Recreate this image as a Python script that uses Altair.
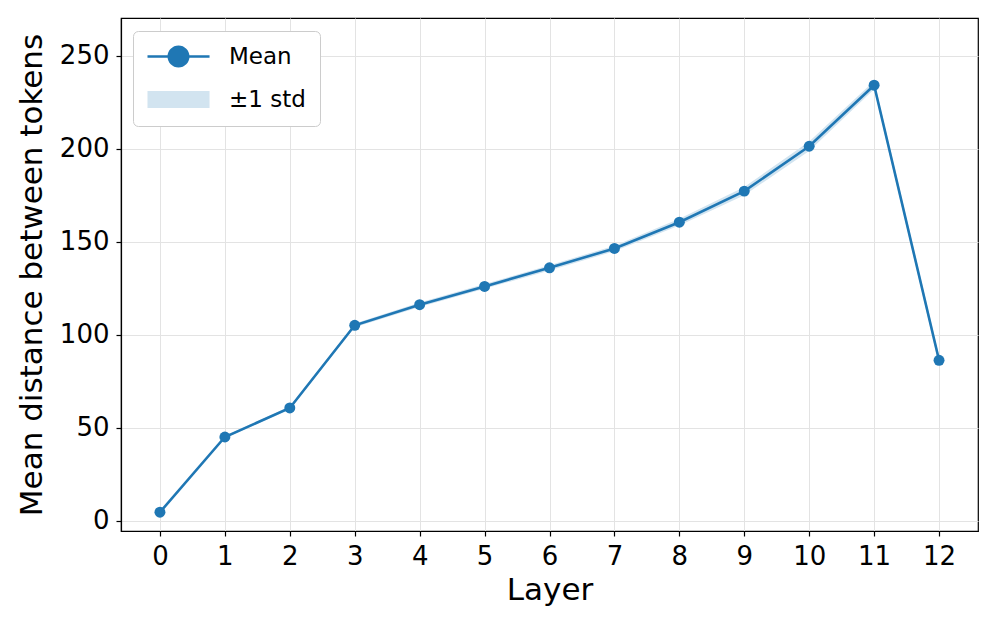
import altair as alt
import pandas as pd

layers = [0, 1, 2, 3, 4, 5, 6, 7, 8, 9, 10, 11, 12]
mean_dist = [4.7, 45.1, 60.7, 105.1, 116.2, 126.0, 136.0, 146.4, 160.5, 177.2, 201.3, 234.1, 86.3]
std_dist = [0.3, 0.6, 0.8, 1.0, 1.2, 1.3, 1.4, 1.5, 1.8, 2.2, 2.6, 2.2, 2.4]
series_names = ["Mean", "±1 std"]
x_ticks = list(range(0, 13))
y_ticks = [0, 50, 100, 150, 200, 250]

BLUE = "#1f77b4"
BAND = "#d2e4f0"

df = pd.DataFrame({
    "layer": layers,
    "mean": mean_dist,
    "lo": [m - s for m, s in zip(mean_dist, std_dist)],
    "hi": [m + s for m, s in zip(mean_dist, std_dist)],
})
leg_df = pd.DataFrame({"series": series_names})

FONT = "DejaVu Sans"
YDOM = [-5.4, 270.2]

x_enc = alt.X(
    "layer:Q",
    scale=alt.Scale(domain=[-0.6, 12.6], nice=False, zero=False),
    axis=alt.Axis(
        title="Layer", values=x_ticks, format="d",
        labelFontSize=26, titleFontSize=31, labelFont=FONT, titleFont=FONT,
        labelColor="black", titleColor="black", titleFontWeight="normal",
        tickSize=5, tickColor="black", tickWidth=1.2, labelPadding=7,
        domainColor="black", domainWidth=1.2,
        grid=True, gridColor="#e3e3e3", gridWidth=1,
        titleY=68, titleBaseline="alphabetic", labelFlush=False,
    ),
)
y_enc_mean = alt.Y(
    "mean:Q",
    scale=alt.Scale(domain=YDOM, nice=False, zero=False),
    axis=alt.Axis(
        title="Mean distance between tokens", values=y_ticks,
        labelFontSize=26, titleFontSize=31, labelFont=FONT, titleFont=FONT,
        labelColor="black", titleColor="black", titleFontWeight="normal",
        tickSize=5, tickColor="black", tickWidth=1.2, labelPadding=7,
        domainColor="black", domainWidth=1.2,
        grid=True, gridColor="#e3e3e3", gridWidth=1,
        titleX=-89, titleBaseline="middle", titleAngle=-90, labelFlush=False,
    ),
)

base = alt.Chart(df)

band = base.mark_area(color=BAND, opacity=1).encode(
    x=x_enc,
    y=alt.Y("lo:Q", scale=alt.Scale(domain=YDOM, nice=False, zero=False)),
    y2="hi:Q",
)
line = base.mark_line(color=BLUE, strokeWidth=2.6).encode(x=x_enc, y=y_enc_mean)
pts = base.mark_circle(color=BLUE, size=120, opacity=1).encode(x=x_enc, y=y_enc_mean)

mean_path = ("M-1,-0.11L4.64,-0.11L4.64,0.11L-1,0.11Z "
             "M2.82,0A1,1 0 1,1 0.82,0A1,1 0 1,1 2.82,0Z")
std_path = "M-1,-0.77L4.64,-0.77L4.64,0.77L-1,0.77Z"

leg = dict(
    title=None, orient="none", legendX=12, legendY=13,
    labelFontSize=23, labelFont=FONT, labelColor="black",
    symbolSize=484, symbolStrokeWidth=0, labelOffset=59,
    rowPadding=19, padding=14,
    fillColor="white", strokeColor="#cccccc", cornerRadius=5,
    symbolOpacity=1,
)

legend_layer = alt.Chart(leg_df).mark_point(filled=True, opacity=0).encode(
    color=alt.Color(
        "series:N",
        scale=alt.Scale(domain=series_names, range=[BLUE, BAND]),
        legend=alt.Legend(**leg),
    ),
    shape=alt.Shape(
        "series:N",
        scale=alt.Scale(domain=series_names, range=[mean_path, std_path]),
        legend=alt.Legend(**leg),
    ),
)

chart = alt.layer(band, line, pts, legend_layer).properties(
    width=857,
    height=513,
    padding={"left": 113, "top": 10, "right": 10, "bottom": 88},
    autosize=alt.AutoSizeParams(type="none"),
    background="white",
).configure_view(
    stroke="black", strokeWidth=1.2,
)

chart.save("out.html", embed_options={"renderer": "svg", "actions": False})
